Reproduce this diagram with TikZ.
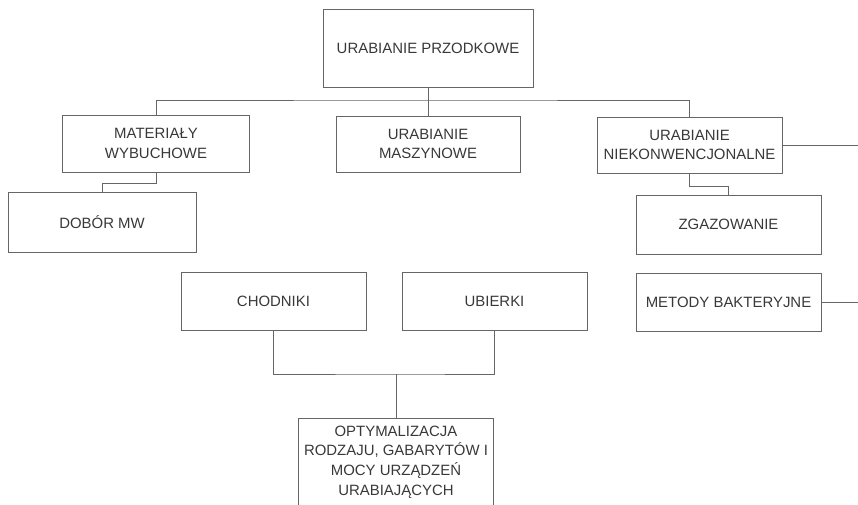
\documentclass[tikz,border=0pt]{standalone}
\usepackage{fontspec}
\setmainfont{Liberation Sans}
\definecolor{linia}{gray}{0.4}
\definecolor{napis}{gray}{0.22}
\begin{document}
\begin{tikzpicture}[x=0.02cm,y=-0.02cm,
        blok/.style={draw=linia,line width=0.45pt,align=center,inner sep=0pt,
            text=napis,font=\fontsize{8.5}{11.2}\selectfont,
            minimum width=3.7cm,minimum height=1.16cm},
        lacz/.style={draw=linia,line width=0.45pt}]
                \useasboundingbox (0,0) rectangle (858,504);
                \node[blok,minimum width=4.2cm,minimum height=1.56cm] (przodek) at (428,48) {URABIANIE PRZODKOWE};
                \node[blok,minimum width=3.74cm,minimum height=1.14cm] (mw) at (156,143.5) {MATERIAŁY\\WYBUCHOWE};
                \node[blok,minimum width=3.68cm,minimum height=1.12cm] (maszyny) at (428,144) {URABIANIE\\MASZYNOWE};
                \node[blok,minimum height=1.12cm] (niekonw) at (689.5,145) {URABIANIE\\NIEKONWENCJONALNE};
                \node[blok,minimum width=3.76cm,minimum height=1.2cm] (dobor) at (102,222) {DOBÓR MW};
                \node[blok,minimum height=1.18cm] (zgaz) at (728.5,224.5) {ZGAZOWANIE};
                \node[blok] (bakterie) at (728.5,302) {METODY BAKTERYJNE};
                \node[blok] (chodniki) at (273.5,301) {CHODNIKI};
                \node[blok] (ubierki) at (494.5,301) {UBIERKI};
                \node[blok,minimum width=3.9cm,minimum height=1.76cm] (optym) at (396,462)
                    {OPTYMALIZACJA\\RODZAJU, GABARYTÓW I\\MOCY URZĄDZEŃ\\URABIAJĄCYCH};

                \coordinate (szyna) at (428,100);
                \coordinate (wezel) at (396,374);
                \coordinate (prawy1) at (862,145);
                \coordinate (prawy2) at (862,302);

                \draw[lacz] (przodek.south) -- (szyna);
                \draw[lacz] (mw.north) |- (szyna) -| (niekonw.north);
                \draw[lacz] (szyna) -- (maszyny.north);
                \draw[lacz] (mw.south) -- ++(0,11) -| (dobor.north);
                \draw[lacz] (niekonw.south) -- ++(0,13) -| (zgaz.north);
                \draw[lacz] (niekonw.east) -- (prawy1);
                \draw[lacz] (bakterie.east) -- (prawy2);
                \draw[lacz] (chodniki.south) |- (wezel) -| (ubierki.south);
                \draw[lacz] (wezel) -- (optym.north);
            \end{tikzpicture}
\end{document}
